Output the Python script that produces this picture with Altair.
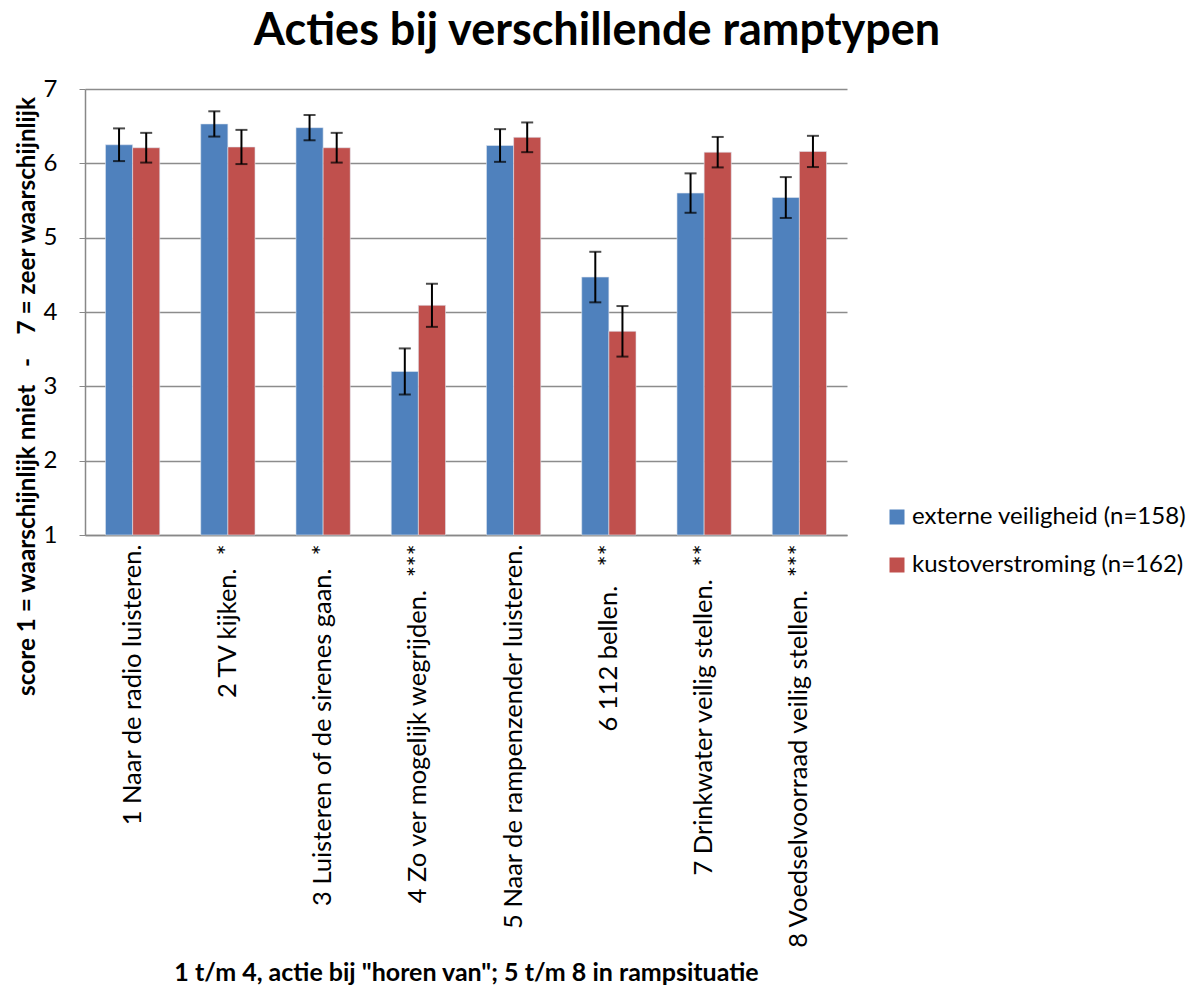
import altair as alt
import pandas as pd

categories = [
    "1 Naar de radio luisteren.",
    "2 TV kijken.\u00a0 *",
    "3 Luisteren of de sirenes gaan.\u00a0 *",
    "4 Zo ver mogelijk wegrijden.\u00a0 ***",
    "5 Naar de rampenzender luisteren.",
    "6 112 bellen.\u00a0 \u00a0**",
    "7 Drinkwater veilig stellen.\u00a0 **",
    "8 Voedselvoorraad veilig stellen.\u00a0 ***",
]
series = ["externe veiligheid (n=158)", "kustoverstroming (n=162)"]
externe = [6.25, 6.53, 6.48, 3.20, 6.24, 4.47, 5.60, 5.54]
externe_err = [0.22, 0.17, 0.17, 0.31, 0.22, 0.34, 0.265, 0.275]
kust = [6.21, 6.22, 6.21, 4.09, 6.35, 3.74, 6.15, 6.16]
kust_err = [0.20, 0.23, 0.20, 0.29, 0.20, 0.34, 0.205, 0.21]
colors = ["#4F81BD", "#C0504D"]

rows = []
for i, c in enumerate(categories):
    for s, vals, errs in ((series[0], externe, externe_err), (series[1], kust, kust_err)):
        rows.append({"cat": c, "series": s, "value": vals[i],
                     "lo": vals[i] - errs[i], "hi": vals[i] + errs[i]})
df = pd.DataFrame(rows)

FONT = "Lato"

x_axis = alt.Axis(title='1 t/m 4, actie bij "horen van"; 5 t/m 8 in rampsituatie',
                  labelAngle=-90, labelFontSize=25.5, labelFont=FONT,
                  labelColor="black", labelPadding=9, labelLimit=600,
                  ticks=False, domainColor="#888888", domainWidth=1.5,
                  titleFont=FONT, titleFontSize=25, titleFontWeight="bold",
                  titleColor="black", titleY=437, titleBaseline="middle")
x_scale = alt.Scale(paddingInner=0.43, paddingOuter=0.215)
y_axis = alt.Axis(values=[1, 2, 3, 4, 5, 6, 7], format="d",
                  title="score 1 = waarschijnlijk nniet\u00a0 \u00a0-\u00a0 \u00a0 7 = zeer waarschijnlijk",
                  labelFontSize=24, labelFont=FONT, labelColor="black",
                  labelPadding=22, tickSize=6, tickColor="#888888",
                  domainColor="#888888", domainWidth=1.5,
                  gridColor="#8c8c8c", gridWidth=1.5,
                  titleFont=FONT, titleFontSize=24.3, titleFontWeight="bold",
                  titleColor="black", titleX=-58, titleY=307,
                  titleBaseline="middle", titleLimit=800)
y_scale = alt.Scale(domain=[1, 7], nice=False, zero=False)

x_enc = alt.X("cat:N", sort=categories, scale=x_scale, axis=x_axis)
xo_enc = alt.XOffset("series:N", sort=series, scale=alt.Scale(paddingInner=0, paddingOuter=0))

bars = alt.Chart(df).mark_bar(stroke="#dfe6f0", strokeWidth=0.6).encode(
    x=x_enc,
    xOffset=xo_enc,
    y=alt.Y("value:Q", scale=y_scale, axis=y_axis),
    y2=alt.datum(1),
    color=alt.Color("series:N", sort=series,
                    scale=alt.Scale(domain=series, range=colors),
                    legend=alt.Legend(title=None, orient="none", legendX=800, legendY=416,
                                      symbolType="square", symbolSize=225,
                                      symbolStrokeWidth=0, labelFont=FONT,
                                      labelFontSize=24, labelColor="black",
                                      rowPadding=24, labelOffset=3, labelLimit=400)),
)

rules = alt.Chart(df).mark_rule(color="black", strokeWidth=2).encode(
    x=x_enc, xOffset=xo_enc,
    y=alt.Y("lo:Q", scale=y_scale, axis=y_axis), y2="hi:Q")

caps_hi = alt.Chart(df).mark_tick(color="black", thickness=2, size=12, orient="horizontal").encode(
    x=x_enc, xOffset=xo_enc, y=alt.Y("hi:Q", scale=y_scale, axis=y_axis))
caps_lo = alt.Chart(df).mark_tick(color="black", thickness=2, size=12, orient="horizontal").encode(
    x=x_enc, xOffset=xo_enc, y=alt.Y("lo:Q", scale=y_scale, axis=y_axis))

chart = alt.layer(bars, rules, caps_hi, caps_lo).properties(
    width=762, height=446,
    title=alt.TitleParams("Acties bij verschillende ramptypen", font=FONT, fontSize=45,
                          fontWeight="bold", color="black", anchor="middle", dx=131,
                          offset=23),
    autosize=alt.AutoSizeParams(type="none"),
    padding={"left": 77, "top": 81, "right": 347, "bottom": 452},
).configure_view(stroke=None).configure_legend(labelFontSize=24, labelFont=FONT)

chart.save("out.html", embed_options={"renderer": "svg", "actions": False})
